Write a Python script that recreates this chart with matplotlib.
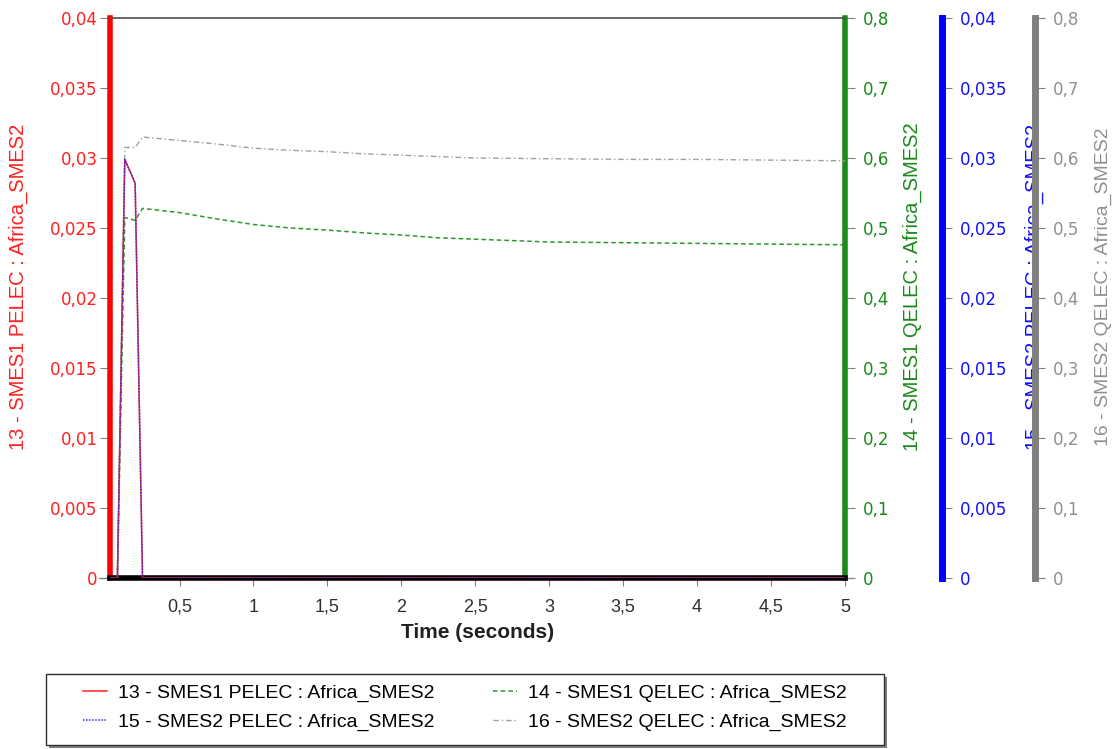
import matplotlib
matplotlib.use("Agg")
import matplotlib.pyplot as plt
from matplotlib.ticker import FuncFormatter, MultipleLocator
from matplotlib.patches import Rectangle

plt.rcParams['font.family'] = ['Liberation Sans', 'DejaVu Sans']

# Time samples (seconds)
time = [0.03, 0.08, 0.13, 0.2, 0.25, 0.5, 0.75, 1.0, 1.25, 1.5, 1.75, 2.0,
        2.25, 2.5, 3.0, 3.5, 4.0, 4.5, 5.0]
# Series values
smes1_pelec = [0, 0, 0.0299, 0.0282, 0, 0, 0, 0, 0, 0, 0, 0, 0, 0, 0, 0, 0, 0, 0]
smes2_pelec = [0, 0, 0.0299, 0.0282, 0, 0, 0, 0, 0, 0, 0, 0, 0, 0, 0, 0, 0, 0, 0]
smes1_qelec = [0, 0, 0.515, 0.511, 0.528, 0.522, 0.513, 0.505, 0.500, 0.497,
               0.493, 0.490, 0.486, 0.484, 0.480, 0.479, 0.478, 0.477, 0.476]
smes2_qelec = [0, 0, 0.615, 0.615, 0.630, 0.625, 0.620, 0.614, 0.611, 0.609,
               0.606, 0.604, 0.602, 0.600, 0.599, 0.598, 0.598, 0.597, 0.596]

labels = ["13 - SMES1 PELEC : Africa_SMES2",
          "14 - SMES1 QELEC : Africa_SMES2",
          "15 - SMES2 PELEC : Africa_SMES2",
          "16 - SMES2 QELEC : Africa_SMES2"]

comma = FuncFormatter(lambda v, p: ('%g' % round(v, 6)).replace('.', ','))
xfmt = FuncFormatter(lambda v, p: '' if abs(v) < 1e-9 else ('%g' % round(v, 6)).replace('.', ','))

W, H = 1120, 749
fig = plt.figure(figsize=(W / 100, H / 100), dpi=100)
ax = fig.add_axes([110 / W, 1 - 578 / H, 735 / W, 560 / H])
ax2 = ax.twinx()
ax3 = ax.twinx()
ax4 = ax.twinx()

ax.set_zorder(4)
ax.patch.set_visible(False)

l1, = ax.plot(time, smes1_pelec, color='#ff2020', lw=1.1, zorder=3)
l3, = ax.plot(time, smes2_pelec, color='#3030ff', lw=1.1, ls=(0, (1, 1)), zorder=4)
l2, = ax2.plot(time, smes1_qelec, color='#2a9a2a', lw=1.1, ls=(0, (3, 2)))
l4, = ax4.plot(time, smes2_qelec, color='#a0a0a0', lw=1.0, ls=(0, (4, 2, 1, 2)))

ax.set_xlim(0.03, 5)
ax.set_ylim(0, 0.04)
ax2.set_ylim(0, 0.8)
ax3.set_ylim(0, 0.04)
ax4.set_ylim(0, 0.8)

ax.xaxis.set_major_locator(MultipleLocator(0.5))
ax.xaxis.set_major_formatter(xfmt)
ax.yaxis.set_major_locator(MultipleLocator(0.005))
ax.yaxis.set_major_formatter(comma)
for a in (ax2, ax4):
    a.yaxis.set_major_locator(MultipleLocator(0.1))
    a.yaxis.set_major_formatter(comma)
ax3.yaxis.set_major_locator(MultipleLocator(0.005))
ax3.yaxis.set_major_formatter(comma)

# zero reference line
ax.axhline(0, color='#909090', lw=1.0, zorder=1, clip_on=False, xmin=-0.015, xmax=1.01)

# spines
for s in ('left', 'right', 'top', 'bottom'):
    for a in (ax2, ax3, ax4):
        a.spines[s].set_visible(False)
ax.spines['right'].set_visible(False)
ax.spines['left'].set_color('#ff0000')
ax.spines['left'].set_linewidth(4)
ax.spines['bottom'].set_color('black')
ax.spines['bottom'].set_linewidth(4)
ax.spines['top'].set_color('#505050')
ax.spines['top'].set_linewidth(1.2)

ax2.spines['right'].set_visible(True)
ax2.spines['right'].set_color('#1a8a1a')
ax2.spines['right'].set_linewidth(4)

ax3.spines['right'].set_visible(True)
ax3.spines['right'].set_position(('axes', 1.132))
ax3.spines['right'].set_color('#0000ff')
ax3.spines['right'].set_linewidth(5)

ax4.spines['right'].set_visible(True)
ax4.spines['right'].set_position(('axes', 1.2585))
ax4.spines['right'].set_color('#808080')
ax4.spines['right'].set_linewidth(5)

ax.tick_params(axis='x', direction='out', length=6, color='#808080', labelsize=13,
               labelcolor='#303030', pad=9)
ax.tick_params(axis='y', direction='out', length=7, color='#808080', labelsize=12,
               labelcolor='#ff2020', pad=2)
ax2.tick_params(axis='y', direction='out', length=7, color='#808080', labelsize=12,
                labelcolor='#1a8a1a', pad=6)
ax3.tick_params(axis='y', direction='out', length=7, color='#808080', labelsize=12,
                labelcolor='#1010ff', pad=6)
ax4.tick_params(axis='y', direction='out', length=7, color='#808080', labelsize=12,
                labelcolor='#909090', pad=6)
for a in (ax, ax2, ax3, ax4):
    for t in a.get_yticklabels():
        t.set_family('DejaVu Sans')

ax.set_xlabel('Time (seconds)', fontsize=15, fontweight='bold', color='#202020', labelpad=5)

ax.set_ylabel(labels[0], fontsize=14.5, color='#ff2020')
ax.yaxis.set_label_coords(-0.111, 0.52)
ax2.set_ylabel(labels[1], fontsize=14.5, color='#1a8a1a')
ax2.yaxis.set_label_coords(1.078, 0.52)
ax3.set_ylabel(labels[2], fontsize=14.5, color='#1010ff')
ax3.yaxis.set_label_coords(1.245, 0.52)
ax4.set_ylabel(labels[3], fontsize=14, color='#909090')
ax4.yaxis.set_label_coords(1.340, 0.52)

# legend box with drop shadow
fig.add_artist(Rectangle((49 / W, 1 - 748 / H), 838 / W, 71 / H, transform=fig.transFigure,
                         facecolor='#808080', edgecolor='none', zorder=1))
fig.add_artist(Rectangle((46 / W, 1 - 745 / H), 838 / W, 71 / H, transform=fig.transFigure,
                         facecolor='white', edgecolor='#303030', lw=1, zorder=2))
leg = fig.legend([l1, l3, l2, l4], [labels[0], labels[2], labels[1], labels[3]],
                 ncol=2, loc='upper left', bbox_to_anchor=(83 / W, 1 - 684 / H),
                 fontsize=14, frameon=False, borderpad=0, borderaxespad=0,
                 handlelength=1.25, handletextpad=0.55, columnspacing=3.0,
                 labelspacing=0.6)
leg.set_zorder(3)

fig.savefig('out.png', dpi=100)
